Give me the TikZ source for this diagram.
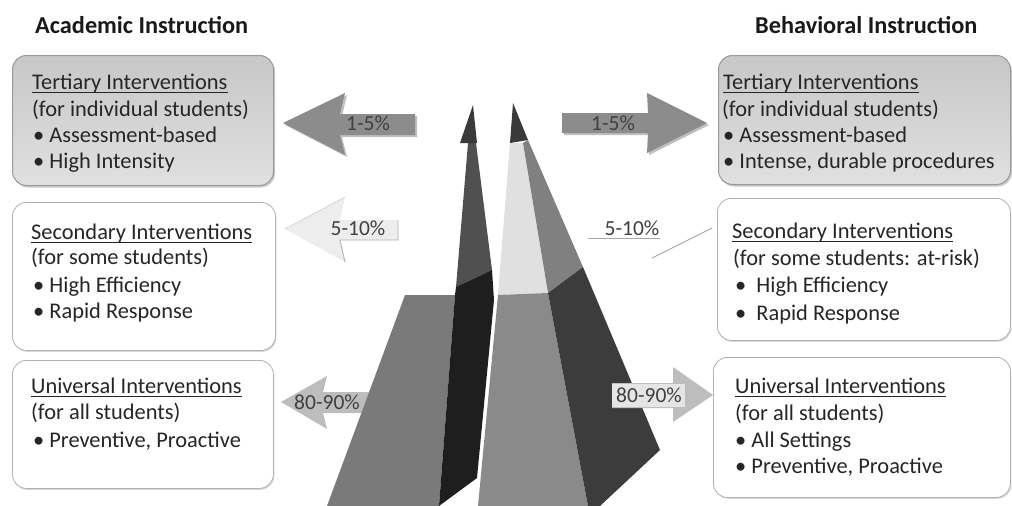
\documentclass[tikz,border=0pt]{standalone}
\usepackage{fontspec}
\setmainfont{Carlito}
\usetikzlibrary{shadows}
\definecolor{txtc}{HTML}{262626}
\definecolor{boxgray}{HTML}{D8D8D8}
\definecolor{arrdark}{HTML}{8C8C8C}
\definecolor{arrlight}{HTML}{EDEDED}
\definecolor{arrmid}{HTML}{BDBDBD}
\definecolor{pyrA}{HTML}{3A3A3A}
\definecolor{pyrB}{HTML}{505050}
\definecolor{pyrC}{HTML}{1E1E1E}
\definecolor{pyrD}{HTML}{7A7A7A}
\definecolor{pyrE}{HTML}{E0E0E0}
\definecolor{pyrF}{HTML}{808080}
\definecolor{pyrG}{HTML}{8A8A8A}
\definecolor{pyrH}{HTML}{3C3C3C}
\begin{document}
\begin{tikzpicture}[x=1pt,y=-1pt,
  txt/.style={anchor=base west, inner sep=0pt, font=\fontsize{22.4}{26}\selectfont, text=txtc},
  ttl/.style={anchor=base west, inner sep=0pt, font=\fontsize{24.3}{29}\selectfont\bfseries, text=black!90},
  pct/.style={anchor=base, inner sep=0pt, font=\fontsize{21.5}{25}\selectfont, text=black!75},
  tbox/.style={draw=black!40, line width=1pt, rounded corners=14pt, top color=black!22, bottom color=black!12, anchor=north west,
    drop shadow={shadow xshift=1.5pt, shadow yshift=-2pt, fill=black!35, opacity=.6}},
  wbox/.style={draw=black!30, line width=0.8pt, rounded corners=14pt, fill=white, anchor=north west,
    drop shadow={shadow xshift=1pt, shadow yshift=-1.5pt, fill=black!25, opacity=.6}},
  ul/.style={draw=txtc, line width=0.9pt}]
\useasboundingbox (0,0) rectangle (1012,506);
\fill[white] (0,0) rectangle (1012,506);

% titles
\node[ttl] (tA) at (35,33) {Academic Instruction};
\node[ttl] (tB) at (755,33) {Behavioral Instruction};

% boxes
\node[tbox, minimum width=261, minimum height=130] (ltb) at (12,55) {};
\node[tbox, minimum width=292, minimum height=129] (rtb) at (718,55) {};
\node[wbox, minimum width=263, minimum height=148] (lsb) at (12,202) {};
\node[wbox, minimum width=261, minimum height=128] (lub) at (12,360) {};
\node[wbox, minimum width=293, minimum height=142] (rsb) at (717,198) {};
\node[wbox, minimum width=297, minimum height=140] (rub) at (713,357) {};

% left tertiary text
\node[txt] (lt1) at (32,89) {Tertiary Interventions};
\node[txt] (lt2) at (32,116) {(for individual students)};
\node[txt] (lt3) at (33,142) {• Assessment-based};
\node[txt] (lt4) at (33,168) {• High Intensity};
% right tertiary text
\node[txt] (rt1) at (723,89) {Tertiary Interventions};
\node[txt] (rt2) at (722,116) {(for individual students)};
\node[txt] (rt3) at (723,142) {• Assessment-based};
\node[txt] (rt4) at (723,168) {• Intense, durable procedures};
% left secondary text
\node[txt] (ls1) at (31,239) {Secondary Interventions};
\node[txt] (ls2) at (31,264) {(for some students)};
\node[txt] (ls3) at (33,292) {• High Efficiency};
\node[txt] (ls4) at (33,318) {• Rapid Response};
% left universal text
\node[txt] (lu1) at (31,393) {Universal Interventions};
\node[txt] (lu2) at (31,419) {(for all students)};
\node[txt] (lu3) at (33,447) {• Preventive, Proactive};
% right secondary text
\node[txt] (rs1) at (732,238) {Secondary Interventions};
\node[txt] (rs2) at (733,265) {(for some students: at-risk)};
\node[txt] (rs3) at (735,292) {•\hspace{5pt} High Efficiency};
\node[txt] (rs4) at (735,320) {•\hspace{5pt} Rapid Response};
% right universal text
\node[txt] (ru1) at (735,393) {Universal Interventions};
\node[txt] (ru2) at (735,420) {(for all students)};
\node[txt] (ru3) at (735,447) {• All Settings};
\node[txt] (ru4) at (735,473) {• Preventive, Proactive};

% underlines
\foreach \n in {lt1,rt1,ls1,lu1,rs1,ru1}
  \draw[ul] ([yshift=-3pt]\n.base west) -- ([yshift=-3pt]\n.base east);

% arrows behind pyramid
\fill[black!25] (285,125) -- (347,95) -- (342,116) -- (417,116) -- (417,137) -- (342,137) -- (347,157) -- cycle;
\fill[arrdark] (283,123) -- (345,93) -- (340,114) -- (415,114) -- (415,135) -- (340,135) -- (345,155) -- cycle;
\fill[arrlight] (285,229) -- (345,197) -- (340,220) -- (398,220) -- (398,240) -- (340,240) -- (345,262) -- cycle;
\draw[black!30, line width=0.9pt] (345,262) -- (340,240) -- (398,240) -- (398,220);
\draw[black!20, line width=0.6pt] (285,229) -- (345,197);
\fill[arrmid] (281,402) -- (327,376) -- (323,392) -- (380,392) -- (380,413) -- (323,413) -- (327,429) -- cycle;

% pyramid, left half
\fill[pyrD] (405,295) -- (455,295) -- (439,506) -- (327,506) -- cycle;
\fill[pyrB] (468,143) -- (476,143) -- (492,270) -- (456,287) -- cycle;
\fill[pyrC] (456,287) -- (492,270) -- (494,300) -- (477,478) -- (439,506) -- (455,295) -- cycle;
\fill[pyrA] (473,105) -- (460,143) -- (477,143) -- cycle;
% pyramid, right half
\fill[pyrE] (510,143) -- (523,143) -- (548,293) -- (498,295) -- cycle;
\fill[pyrF] (523,143) -- (528,140) -- (583,267) -- (548,293) -- cycle;
\fill[pyrG] (498,295) -- (548,293) -- (588,506) -- (478,506) -- cycle;
\fill[pyrH] (548,293) -- (583,267) -- (660,450) -- (600,506) -- (588,506) -- cycle;
\fill[pyrA] (513,103) -- (510,143) -- (528,140) -- cycle;

% arrows on the right
\fill[black!25] (564,115) -- (650,115) -- (649,95) -- (709,125) -- (649,155) -- (650,135) -- (564,135) -- cycle;
\fill[arrdark] (562,113) -- (648,113) -- (647,93) -- (707,123) -- (647,153) -- (648,133) -- (562,133) -- cycle;
\fill[white] (588,218) -- (652,218) -- (652,198) -- (712,228) -- (652,258) -- (652,238) -- (588,238) -- cycle;
\draw[black!35, line width=0.9pt] (588,238) -- (660,238);
\draw[black!35, line width=0.9pt] (652,258) -- (712,228);
\fill[arrmid] (612,383) -- (673,383) -- (673,367) -- (713,395) -- (673,422) -- (673,408) -- (612,408) -- cycle;
\fill[black!10] (612,384) rectangle (685,407);

% percentage labels
\node[pct] (p1) at (368,130) {1-5\%};
\node[pct] (p2) at (613,130) {1-5\%};
\node[pct] (p3) at (358,235) {5-10\%};
\node[pct] (p4) at (632,235) {5-10\%};
\node[pct] (p5) at (327,409) {80-90\%};
\node[pct] (p6) at (649,402) {80-90\%};
\end{tikzpicture}
\end{document}
